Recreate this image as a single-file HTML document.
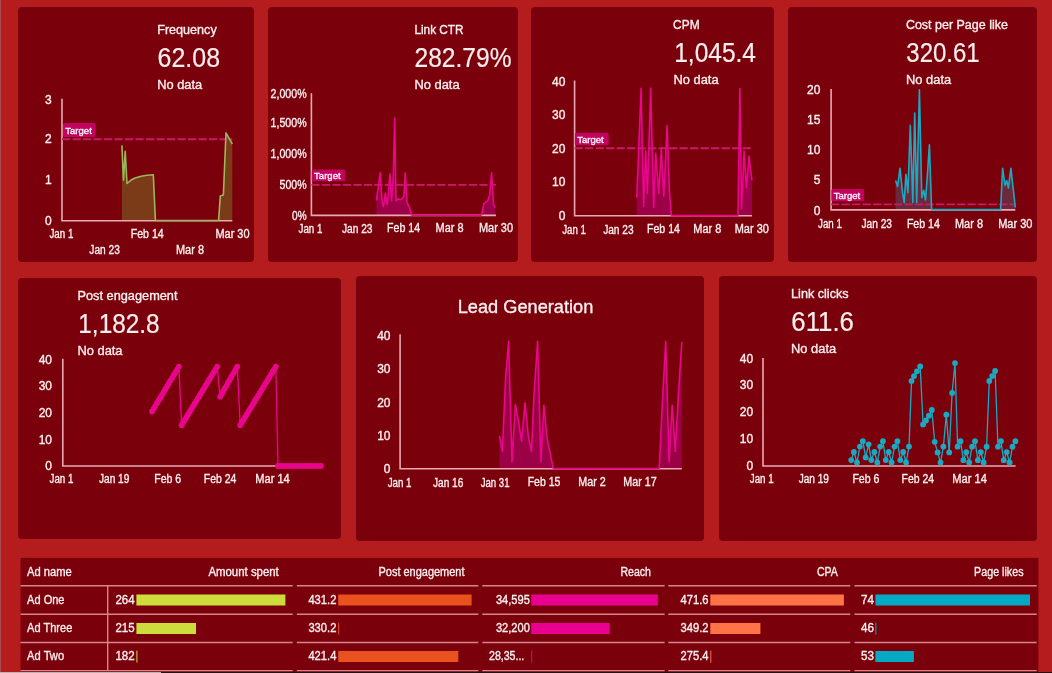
<!DOCTYPE html>
<html><head><meta charset="utf-8"><title>Facebook Ads Dashboard</title>
<style>
html,body{margin:0;padding:0;}
body{width:1052px;height:673px;overflow:hidden;background:#b51c1d;position:relative;font-family:'Liberation Sans', Arial, sans-serif;}
.card{position:absolute;background:#7a000c;border-radius:4px;}
.edge{position:absolute;left:0;top:0;width:1px;height:673px;background:#a84a4e;}
.bar{position:absolute;left:0;top:672px;width:1052px;height:1px;background:#221012;}
.bar i{position:absolute;left:0;top:0;width:161px;height:1px;background:#bdb3b5;}
svg{position:absolute;left:0;top:0;}
.wrap{position:absolute;left:0;top:0;width:1052px;height:673px;filter:blur(0.35px);}
svg text{font-family:'Liberation Sans', Arial, sans-serif;}
</style></head>
<body>
<div class="wrap">
<div class="edge"></div>
<div class="card" style="left:17.9px;top:6.8px;width:236.4px;height:254.9px"></div>
<div class="card" style="left:267.6px;top:6.8px;width:250.1px;height:254.9px"></div>
<div class="card" style="left:530.7px;top:6.8px;width:243.1px;height:254.9px"></div>
<div class="card" style="left:787.5px;top:6.8px;width:249.9px;height:254.9px"></div>
<div class="card" style="left:18px;top:278px;width:323.4px;height:261.3px"></div>
<div class="card" style="left:356.1px;top:276px;width:347.7px;height:264.8px"></div>
<div class="card" style="left:719.2px;top:276px;width:318.2px;height:264.8px"></div>
<svg width="1052" height="673" viewBox="0 0 1052 673">
<rect x="20.5" y="557.9" width="1017.9" height="115.1" fill="#7a000c"/>
<path d="M20.5 585.8H292.7" stroke="#d6868b" stroke-width="1.4"/>
<path d="M296.8 585.8H478.3" stroke="#d6868b" stroke-width="1.4"/>
<path d="M482.3 585.8H664.6" stroke="#d6868b" stroke-width="1.4"/>
<path d="M668.3 585.8H850.3" stroke="#d6868b" stroke-width="1.4"/>
<path d="M854.5 585.8H1036.7" stroke="#d6868b" stroke-width="1.4"/>
<path d="M20.5 614.2H292.7" stroke="#d6868b" stroke-width="1.4"/>
<path d="M296.8 614.2H478.3" stroke="#d6868b" stroke-width="1.4"/>
<path d="M482.3 614.2H664.6" stroke="#d6868b" stroke-width="1.4"/>
<path d="M668.3 614.2H850.3" stroke="#d6868b" stroke-width="1.4"/>
<path d="M854.5 614.2H1036.7" stroke="#d6868b" stroke-width="1.4"/>
<path d="M20.5 642.5H292.7" stroke="#d6868b" stroke-width="1.4"/>
<path d="M296.8 642.5H478.3" stroke="#d6868b" stroke-width="1.4"/>
<path d="M482.3 642.5H664.6" stroke="#d6868b" stroke-width="1.4"/>
<path d="M668.3 642.5H850.3" stroke="#d6868b" stroke-width="1.4"/>
<path d="M854.5 642.5H1036.7" stroke="#d6868b" stroke-width="1.4"/>
<path d="M20.5 670.6H292.7" stroke="#d6868b" stroke-width="1.4"/>
<path d="M296.8 670.6H478.3" stroke="#d6868b" stroke-width="1.4"/>
<path d="M482.3 670.6H664.6" stroke="#d6868b" stroke-width="1.4"/>
<path d="M668.3 670.6H850.3" stroke="#d6868b" stroke-width="1.4"/>
<path d="M854.5 670.6H1036.7" stroke="#d6868b" stroke-width="1.4"/>
<path d="M107.7 585.2V670.6" stroke="#d6868b" stroke-width="1.4"/>
<path d="M121.9 145.4 L123.5 180.3 L125.2 151.2 L127.0 183.5 L130.8 180.3 L135.0 178.0 L141.2 176.2 L147.0 175.2 L153.3 174.7 L155.4 220.5 L155.4 220.7 L121.9 220.7Z" fill="#7b3a18"/>
<path d="M218.6 220.5 L220.3 196.0 L223.4 195.0 L226.0 132.9 L232.3 144.0 L232.3 220.7 L218.6 220.7Z" fill="#7b3a18"/>
<path d="M376.4 200.7 L380.2 172.7 L382.0 200.7 L383.5 206.5 L385.4 193.0 L387.0 204.6 L388.3 195.0 L389.9 173.7 L391.6 200.7 L393.2 177.6 L394.7 117.7 L396.0 200.7 L398.0 198.8 L400.9 199.8 L403.8 196.9 L405.3 172.7 L407.0 202.7 L409.6 207.5 L411.5 215.2 L411.5 215.4 L376.4 215.4Z" fill="#9c0047"/>
<path d="M481.6 215.2 L483.9 203.6 L487.8 200.7 L489.7 195.0 L491.6 172.7 L493.5 204.6 L495.5 207.5 L495.5 215.4 L481.6 215.4Z" fill="#9c0047"/>
<path d="M636.8 197.6 L641.1 88.2 L643.6 206.5 L645.6 150.9 L647.4 193.8 L650.7 88.2 L653.7 207.7 L655.7 153.4 L658.8 193.8 L661.3 148.3 L663.8 196.4 L667.1 125.6 L669.4 191.3 L671.4 215.6 L671.4 215.8 L636.8 215.8Z" fill="#9c0047"/>
<path d="M738.0 215.6 L739.9 88.5 L741.6 208.7 L744.1 151.0 L746.5 187.9 L749.0 156.0 L752.0 180.5 L752.0 215.8 L738.0 215.8Z" fill="#9c0047"/>
<path d="M895.6 180.4 L897.6 186.5 L900.0 168.2 L902.5 192.7 L904.2 202.5 L905.9 174.3 L907.9 192.7 L910.3 125.3 L912.8 202.5 L914.7 113.0 L916.7 202.5 L919.4 89.7 L921.8 197.6 L923.8 190.2 L925.5 200.0 L927.5 173.0 L929.4 144.9 L931.6 209.6 L931.6 209.9 L895.6 209.9Z" fill="#6b2a3c"/>
<path d="M1000.6 209.6 L1002.6 168.2 L1005.0 185.4 L1006.7 180.5 L1008.4 187.9 L1010.9 168.2 L1015.3 207.5 L1015.3 209.9 L1000.6 209.9Z" fill="#6b2a3c"/>
<path d="M499.5 435.8 L502.4 451.4 L505.5 379.8 L508.6 341.3 L512.0 461.8 L515.4 404.5 L518.5 421.5 L521.6 441.0 L525.0 402.7 L528.4 437.0 L531.5 451.4 L534.1 392.8 L537.6 341.3 L540.9 461.8 L543.9 405.3 L547.3 439.7 L553.3 468.6 L553.3 468.8 L499.5 468.8Z" fill="#9c0047"/>
<path d="M659.2 468.6 L662.6 398.0 L665.7 341.3 L669.1 461.8 L672.2 405.3 L675.3 451.4 L678.2 398.0 L681.8 342.0 L681.8 468.8 L659.2 468.8Z" fill="#9c0047"/>
<path d="M62 98.8V220.7H232.3" fill="none" stroke="#e6aab0" stroke-width="1.6"/>
<path d="M311.4 93.3V215.4H495.9" fill="none" stroke="#e6aab0" stroke-width="1.6"/>
<path d="M574.6 80.6V215.8H752" fill="none" stroke="#e6aab0" stroke-width="1.6"/>
<path d="M831.1 89V209.9H1015.3" fill="none" stroke="#e6aab0" stroke-width="1.6"/>
<path d="M62.8 358.8V466H321" fill="none" stroke="#e6aab0" stroke-width="1.6"/>
<path d="M400.1 334.3V468.8H681.8" fill="none" stroke="#e6aab0" stroke-width="1.6"/>
<path d="M763 357.9V466H1015.6" fill="none" stroke="#e6aab0" stroke-width="1.6"/>
<rect x="63" y="123" width="32.6" height="14" rx="1.5" fill="#c2035f"/>
<path d="M62 139.3H232.3" stroke="#cc186c" stroke-width="1.9" stroke-dasharray="8.2 2.3"/>
<rect x="311.8" y="169.4" width="33.3" height="11.9" rx="1.5" fill="#c2035f"/>
<path d="M311.4 184.9H495.9" stroke="#cc186c" stroke-width="1.9" stroke-dasharray="8.2 2.3"/>
<rect x="574.9" y="132.7" width="33.8" height="12.6" rx="1.5" fill="#c2035f"/>
<path d="M574.6 148.3H752" stroke="#cc186c" stroke-width="1.9" stroke-dasharray="8.2 2.3"/>
<rect x="831.4" y="189" width="32.8" height="12.3" rx="1.5" fill="#c2035f"/>
<path d="M831.1 204.4H1015.3" stroke="#cc186c" stroke-width="1.9" stroke-dasharray="8.2 2.3"/>
<path d="M121.9 145.4 L123.5 180.3 L125.2 151.2 L127.0 183.5 L130.8 180.3 L135.0 178.0 L141.2 176.2 L147.0 175.2 L153.3 174.7 L155.4 220.5" fill="none" stroke="#9ab85a" stroke-width="1.6" stroke-linejoin="round"/>
<path d="M218.6 220.5 L220.3 196.0 L223.4 195.0 L226.0 132.9 L232.3 144.0" fill="none" stroke="#9ab85a" stroke-width="1.6" stroke-linejoin="round"/>
<path d="M155.4 220.5H218.6" stroke="#9ab85a" stroke-width="1.6"/>
<path d="M376.4 200.7 L380.2 172.7 L382.0 200.7 L383.5 206.5 L385.4 193.0 L387.0 204.6 L388.3 195.0 L389.9 173.7 L391.6 200.7 L393.2 177.6 L394.7 117.7 L396.0 200.7 L398.0 198.8 L400.9 199.8 L403.8 196.9 L405.3 172.7 L407.0 202.7 L409.6 207.5 L411.5 215.2" fill="none" stroke="#e8068c" stroke-width="1.6" stroke-linejoin="round"/>
<path d="M481.6 215.2 L483.9 203.6 L487.8 200.7 L489.7 195.0 L491.6 172.7 L493.5 204.6 L495.5 207.5" fill="none" stroke="#e8068c" stroke-width="1.6" stroke-linejoin="round"/>
<path d="M411.5 215.2H481.6" stroke="#e8068c" stroke-width="1.6"/>
<path d="M636.8 197.6 L641.1 88.2 L643.6 206.5 L645.6 150.9 L647.4 193.8 L650.7 88.2 L653.7 207.7 L655.7 153.4 L658.8 193.8 L661.3 148.3 L663.8 196.4 L667.1 125.6 L669.4 191.3 L671.4 215.6" fill="none" stroke="#e8068c" stroke-width="1.6" stroke-linejoin="round"/>
<path d="M738.0 215.6 L739.9 88.5 L741.6 208.7 L744.1 151.0 L746.5 187.9 L749.0 156.0 L752.0 180.5" fill="none" stroke="#e8068c" stroke-width="1.6" stroke-linejoin="round"/>
<path d="M671.4 215.6H738" stroke="#e8068c" stroke-width="1.6"/>
<path d="M895.6 180.4 L897.6 186.5 L900.0 168.2 L902.5 192.7 L904.2 202.5 L905.9 174.3 L907.9 192.7 L910.3 125.3 L912.8 202.5 L914.7 113.0 L916.7 202.5 L919.4 89.7 L921.8 197.6 L923.8 190.2 L925.5 200.0 L927.5 173.0 L929.4 144.9 L931.6 209.6" fill="none" stroke="#1ba9c2" stroke-width="1.6" stroke-linejoin="round"/>
<path d="M1000.6 209.6 L1002.6 168.2 L1005.0 185.4 L1006.7 180.5 L1008.4 187.9 L1010.9 168.2 L1015.3 207.5" fill="none" stroke="#1ba9c2" stroke-width="1.6" stroke-linejoin="round"/>
<path d="M931.6 209.6H1000.6" stroke="#1ba9c2" stroke-width="1.6"/>
<path d="M178.9 366.6L181.6 425.2" stroke="#e8068c" stroke-width="1.3"/>
<path d="M217.2 366.6L220.1 396.7" stroke="#e8068c" stroke-width="1.3"/>
<path d="M237.3 366.6L240.2 425.2" stroke="#e8068c" stroke-width="1.3"/>
<path d="M275.8 366.6L278 466" stroke="#e8068c" stroke-width="1.3"/>
<path d="M152.1 411.4L178.9 366.6" stroke="#e8068c" stroke-width="4.6" stroke-linecap="round"/>
<circle cx="152.1" cy="411.4" r="2.9" fill="#e8068c"/>
<circle cx="153.8" cy="408.6" r="2.9" fill="#e8068c"/>
<circle cx="155.4" cy="405.8" r="2.9" fill="#e8068c"/>
<circle cx="157.1" cy="403.0" r="2.9" fill="#e8068c"/>
<circle cx="158.8" cy="400.2" r="2.9" fill="#e8068c"/>
<circle cx="160.5" cy="397.4" r="2.9" fill="#e8068c"/>
<circle cx="162.2" cy="394.6" r="2.9" fill="#e8068c"/>
<circle cx="163.8" cy="391.8" r="2.9" fill="#e8068c"/>
<circle cx="165.5" cy="389.0" r="2.9" fill="#e8068c"/>
<circle cx="167.2" cy="386.2" r="2.9" fill="#e8068c"/>
<circle cx="168.8" cy="383.4" r="2.9" fill="#e8068c"/>
<circle cx="170.5" cy="380.6" r="2.9" fill="#e8068c"/>
<circle cx="172.2" cy="377.8" r="2.9" fill="#e8068c"/>
<circle cx="173.9" cy="375.0" r="2.9" fill="#e8068c"/>
<circle cx="175.6" cy="372.2" r="2.9" fill="#e8068c"/>
<circle cx="177.2" cy="369.4" r="2.9" fill="#e8068c"/>
<circle cx="178.9" cy="366.6" r="2.9" fill="#e8068c"/>
<path d="M181.6 425.2L217.2 366.6" stroke="#e8068c" stroke-width="4.6" stroke-linecap="round"/>
<circle cx="181.6" cy="425.2" r="2.9" fill="#e8068c"/>
<circle cx="183.2" cy="422.5" r="2.9" fill="#e8068c"/>
<circle cx="184.8" cy="419.9" r="2.9" fill="#e8068c"/>
<circle cx="186.5" cy="417.2" r="2.9" fill="#e8068c"/>
<circle cx="188.1" cy="414.5" r="2.9" fill="#e8068c"/>
<circle cx="189.7" cy="411.9" r="2.9" fill="#e8068c"/>
<circle cx="191.3" cy="409.2" r="2.9" fill="#e8068c"/>
<circle cx="192.9" cy="406.6" r="2.9" fill="#e8068c"/>
<circle cx="194.5" cy="403.9" r="2.9" fill="#e8068c"/>
<circle cx="196.2" cy="401.2" r="2.9" fill="#e8068c"/>
<circle cx="197.8" cy="398.6" r="2.9" fill="#e8068c"/>
<circle cx="199.4" cy="395.9" r="2.9" fill="#e8068c"/>
<circle cx="201.0" cy="393.2" r="2.9" fill="#e8068c"/>
<circle cx="202.6" cy="390.6" r="2.9" fill="#e8068c"/>
<circle cx="204.3" cy="387.9" r="2.9" fill="#e8068c"/>
<circle cx="205.9" cy="385.2" r="2.9" fill="#e8068c"/>
<circle cx="207.5" cy="382.6" r="2.9" fill="#e8068c"/>
<circle cx="209.1" cy="379.9" r="2.9" fill="#e8068c"/>
<circle cx="210.7" cy="377.3" r="2.9" fill="#e8068c"/>
<circle cx="212.3" cy="374.6" r="2.9" fill="#e8068c"/>
<circle cx="214.0" cy="371.9" r="2.9" fill="#e8068c"/>
<circle cx="215.6" cy="369.3" r="2.9" fill="#e8068c"/>
<circle cx="217.2" cy="366.6" r="2.9" fill="#e8068c"/>
<path d="M220.1 396.7L237.3 366.6" stroke="#e8068c" stroke-width="4.6" stroke-linecap="round"/>
<circle cx="220.1" cy="396.7" r="2.9" fill="#e8068c"/>
<circle cx="221.7" cy="394.0" r="2.9" fill="#e8068c"/>
<circle cx="223.2" cy="391.2" r="2.9" fill="#e8068c"/>
<circle cx="224.8" cy="388.5" r="2.9" fill="#e8068c"/>
<circle cx="226.4" cy="385.8" r="2.9" fill="#e8068c"/>
<circle cx="227.9" cy="383.0" r="2.9" fill="#e8068c"/>
<circle cx="229.5" cy="380.3" r="2.9" fill="#e8068c"/>
<circle cx="231.0" cy="377.5" r="2.9" fill="#e8068c"/>
<circle cx="232.6" cy="374.8" r="2.9" fill="#e8068c"/>
<circle cx="234.2" cy="372.1" r="2.9" fill="#e8068c"/>
<circle cx="235.7" cy="369.3" r="2.9" fill="#e8068c"/>
<circle cx="237.3" cy="366.6" r="2.9" fill="#e8068c"/>
<path d="M240.2 425.2L275.8 366.6" stroke="#e8068c" stroke-width="4.6" stroke-linecap="round"/>
<circle cx="240.2" cy="425.2" r="2.9" fill="#e8068c"/>
<circle cx="241.8" cy="422.5" r="2.9" fill="#e8068c"/>
<circle cx="243.4" cy="419.9" r="2.9" fill="#e8068c"/>
<circle cx="245.1" cy="417.2" r="2.9" fill="#e8068c"/>
<circle cx="246.7" cy="414.5" r="2.9" fill="#e8068c"/>
<circle cx="248.3" cy="411.9" r="2.9" fill="#e8068c"/>
<circle cx="249.9" cy="409.2" r="2.9" fill="#e8068c"/>
<circle cx="251.5" cy="406.6" r="2.9" fill="#e8068c"/>
<circle cx="253.1" cy="403.9" r="2.9" fill="#e8068c"/>
<circle cx="254.8" cy="401.2" r="2.9" fill="#e8068c"/>
<circle cx="256.4" cy="398.6" r="2.9" fill="#e8068c"/>
<circle cx="258.0" cy="395.9" r="2.9" fill="#e8068c"/>
<circle cx="259.6" cy="393.2" r="2.9" fill="#e8068c"/>
<circle cx="261.2" cy="390.6" r="2.9" fill="#e8068c"/>
<circle cx="262.9" cy="387.9" r="2.9" fill="#e8068c"/>
<circle cx="264.5" cy="385.2" r="2.9" fill="#e8068c"/>
<circle cx="266.1" cy="382.6" r="2.9" fill="#e8068c"/>
<circle cx="267.7" cy="379.9" r="2.9" fill="#e8068c"/>
<circle cx="269.3" cy="377.3" r="2.9" fill="#e8068c"/>
<circle cx="270.9" cy="374.6" r="2.9" fill="#e8068c"/>
<circle cx="272.6" cy="371.9" r="2.9" fill="#e8068c"/>
<circle cx="274.2" cy="369.3" r="2.9" fill="#e8068c"/>
<circle cx="275.8" cy="366.6" r="2.9" fill="#e8068c"/>
<path d="M278 466L321 466" stroke="#e8068c" stroke-width="4.6" stroke-linecap="round"/>
<circle cx="278.0" cy="466.0" r="2.9" fill="#e8068c"/>
<circle cx="281.3" cy="466.0" r="2.9" fill="#e8068c"/>
<circle cx="284.6" cy="466.0" r="2.9" fill="#e8068c"/>
<circle cx="287.9" cy="466.0" r="2.9" fill="#e8068c"/>
<circle cx="291.2" cy="466.0" r="2.9" fill="#e8068c"/>
<circle cx="294.5" cy="466.0" r="2.9" fill="#e8068c"/>
<circle cx="297.8" cy="466.0" r="2.9" fill="#e8068c"/>
<circle cx="301.2" cy="466.0" r="2.9" fill="#e8068c"/>
<circle cx="304.5" cy="466.0" r="2.9" fill="#e8068c"/>
<circle cx="307.8" cy="466.0" r="2.9" fill="#e8068c"/>
<circle cx="311.1" cy="466.0" r="2.9" fill="#e8068c"/>
<circle cx="314.4" cy="466.0" r="2.9" fill="#e8068c"/>
<circle cx="317.7" cy="466.0" r="2.9" fill="#e8068c"/>
<circle cx="321.0" cy="466.0" r="2.9" fill="#e8068c"/>
<path d="M499.5 435.8 L502.4 451.4 L505.5 379.8 L508.6 341.3 L512.0 461.8 L515.4 404.5 L518.5 421.5 L521.6 441.0 L525.0 402.7 L528.4 437.0 L531.5 451.4 L534.1 392.8 L537.6 341.3 L540.9 461.8 L543.9 405.3 L547.3 439.7 L553.3 468.6" fill="none" stroke="#e8068c" stroke-width="1.6" stroke-linejoin="round"/>
<path d="M659.2 468.6 L662.6 398.0 L665.7 341.3 L669.1 461.8 L672.2 405.3 L675.3 451.4 L678.2 398.0 L681.8 342.0" fill="none" stroke="#e8068c" stroke-width="1.6" stroke-linejoin="round"/>
<path d="M553.3 468.6H659.2" stroke="#e8068c" stroke-width="1.6"/>
<path d="M851.2 460.1 L853.9 452.0 L857.0 462.5 L859.9 446.6 L862.8 441.2 L865.7 457.4 L868.6 444.3 L871.3 460.1 L874.4 452.0 L877.3 462.5 L880.2 446.6 L882.9 441.2 L885.8 460.1 L888.7 452.0 L891.6 462.5 L894.5 446.6 L897.4 441.2 L900.3 460.1 L903.2 452.0 L906.1 462.5 L909.0 446.6 L911.5 380.9 L914.0 376.1 L916.9 371.3 L920.2 366.4 L923.1 424.4 L926.0 420.5 L928.9 415.7 L931.8 409.9 L934.7 441.8 L937.6 452.4 L940.5 462.5 L943.4 446.6 L946.3 414.7 L949.2 452.4 L952.1 392.9 L955.0 363.1 L957.6 446.7 L960.5 441.2 L963.4 460.2 L966.3 452.1 L969.2 462.5 L972.1 446.7 L975.0 441.2 L977.9 460.2 L980.8 452.1 L983.7 462.5 L986.6 446.7 L989.3 380.9 L992.2 376.1 L995.1 370.9 L998.0 446.7 L1000.9 441.2 L1003.8 460.2 L1006.7 452.1 L1009.6 462.5 L1012.5 446.7 L1015.4 441.2" fill="none" stroke="#1ba9c2" stroke-width="1.3" stroke-linejoin="round"/>
<circle cx="851.2" cy="460.1" r="2.9" fill="#1ba9c2"/>
<circle cx="853.9" cy="452" r="2.9" fill="#1ba9c2"/>
<circle cx="857" cy="462.5" r="2.9" fill="#1ba9c2"/>
<circle cx="859.9" cy="446.6" r="2.9" fill="#1ba9c2"/>
<circle cx="862.8" cy="441.2" r="2.9" fill="#1ba9c2"/>
<circle cx="865.7" cy="457.4" r="2.9" fill="#1ba9c2"/>
<circle cx="868.6" cy="444.3" r="2.9" fill="#1ba9c2"/>
<circle cx="871.3" cy="460.1" r="2.9" fill="#1ba9c2"/>
<circle cx="874.4" cy="452" r="2.9" fill="#1ba9c2"/>
<circle cx="877.3" cy="462.5" r="2.9" fill="#1ba9c2"/>
<circle cx="880.2" cy="446.6" r="2.9" fill="#1ba9c2"/>
<circle cx="882.9" cy="441.2" r="2.9" fill="#1ba9c2"/>
<circle cx="885.8" cy="460.1" r="2.9" fill="#1ba9c2"/>
<circle cx="888.7" cy="452" r="2.9" fill="#1ba9c2"/>
<circle cx="891.6" cy="462.5" r="2.9" fill="#1ba9c2"/>
<circle cx="894.5" cy="446.6" r="2.9" fill="#1ba9c2"/>
<circle cx="897.4" cy="441.2" r="2.9" fill="#1ba9c2"/>
<circle cx="900.3" cy="460.1" r="2.9" fill="#1ba9c2"/>
<circle cx="903.2" cy="452" r="2.9" fill="#1ba9c2"/>
<circle cx="906.1" cy="462.5" r="2.9" fill="#1ba9c2"/>
<circle cx="909" cy="446.6" r="2.9" fill="#1ba9c2"/>
<circle cx="911.5" cy="380.9" r="2.9" fill="#1ba9c2"/>
<circle cx="914" cy="376.1" r="2.9" fill="#1ba9c2"/>
<circle cx="916.9" cy="371.3" r="2.9" fill="#1ba9c2"/>
<circle cx="920.2" cy="366.4" r="2.9" fill="#1ba9c2"/>
<circle cx="923.1" cy="424.4" r="2.9" fill="#1ba9c2"/>
<circle cx="926" cy="420.5" r="2.9" fill="#1ba9c2"/>
<circle cx="928.9" cy="415.7" r="2.9" fill="#1ba9c2"/>
<circle cx="931.8" cy="409.9" r="2.9" fill="#1ba9c2"/>
<circle cx="934.7" cy="441.8" r="2.9" fill="#1ba9c2"/>
<circle cx="937.6" cy="452.4" r="2.9" fill="#1ba9c2"/>
<circle cx="940.5" cy="462.5" r="2.9" fill="#1ba9c2"/>
<circle cx="943.4" cy="446.6" r="2.9" fill="#1ba9c2"/>
<circle cx="946.3" cy="414.7" r="2.9" fill="#1ba9c2"/>
<circle cx="949.2" cy="452.4" r="2.9" fill="#1ba9c2"/>
<circle cx="952.1" cy="392.9" r="2.9" fill="#1ba9c2"/>
<circle cx="955" cy="363.1" r="2.9" fill="#1ba9c2"/>
<circle cx="957.6" cy="446.7" r="2.9" fill="#1ba9c2"/>
<circle cx="960.5" cy="441.2" r="2.9" fill="#1ba9c2"/>
<circle cx="963.4" cy="460.2" r="2.9" fill="#1ba9c2"/>
<circle cx="966.3" cy="452.1" r="2.9" fill="#1ba9c2"/>
<circle cx="969.2" cy="462.5" r="2.9" fill="#1ba9c2"/>
<circle cx="972.1" cy="446.7" r="2.9" fill="#1ba9c2"/>
<circle cx="975" cy="441.2" r="2.9" fill="#1ba9c2"/>
<circle cx="977.9" cy="460.2" r="2.9" fill="#1ba9c2"/>
<circle cx="980.8" cy="452.1" r="2.9" fill="#1ba9c2"/>
<circle cx="983.7" cy="462.5" r="2.9" fill="#1ba9c2"/>
<circle cx="986.6" cy="446.7" r="2.9" fill="#1ba9c2"/>
<circle cx="989.3" cy="380.9" r="2.9" fill="#1ba9c2"/>
<circle cx="992.2" cy="376.1" r="2.9" fill="#1ba9c2"/>
<circle cx="995.1" cy="370.9" r="2.9" fill="#1ba9c2"/>
<circle cx="998" cy="446.7" r="2.9" fill="#1ba9c2"/>
<circle cx="1000.9" cy="441.2" r="2.9" fill="#1ba9c2"/>
<circle cx="1003.8" cy="460.2" r="2.9" fill="#1ba9c2"/>
<circle cx="1006.7" cy="452.1" r="2.9" fill="#1ba9c2"/>
<circle cx="1009.6" cy="462.5" r="2.9" fill="#1ba9c2"/>
<circle cx="1012.5" cy="446.7" r="2.9" fill="#1ba9c2"/>
<circle cx="1015.4" cy="441.2" r="2.9" fill="#1ba9c2"/>
<text x="157.2" y="33.9" font-size="12.5" text-anchor="start" fill="#fbeeee" stroke="#fbeeee" stroke-width="0.35" font-weight="normal" textLength="59.5" lengthAdjust="spacingAndGlyphs">Frequency</text>
<text x="157.6" y="66.8" font-size="27" text-anchor="start" fill="#fbeeee" stroke="#fbeeee" stroke-width="0.2" font-weight="normal" textLength="62.5" lengthAdjust="spacingAndGlyphs">62.08</text>
<text x="157.2" y="88.9" font-size="12.5" text-anchor="start" fill="#fbeeee" stroke="#fbeeee" stroke-width="0.35" font-weight="normal" textLength="45" lengthAdjust="spacingAndGlyphs">No data</text>
<text x="414.4" y="33.9" font-size="12.5" text-anchor="start" fill="#fbeeee" stroke="#fbeeee" stroke-width="0.35" font-weight="normal" textLength="49.2" lengthAdjust="spacingAndGlyphs">Link CTR</text>
<text x="414.5" y="66.8" font-size="27" text-anchor="start" fill="#fbeeee" stroke="#fbeeee" stroke-width="0.2" font-weight="normal" textLength="97" lengthAdjust="spacingAndGlyphs">282.79%</text>
<text x="414.4" y="88.9" font-size="12.5" text-anchor="start" fill="#fbeeee" stroke="#fbeeee" stroke-width="0.35" font-weight="normal" textLength="45.2" lengthAdjust="spacingAndGlyphs">No data</text>
<text x="673.1" y="28.6" font-size="12.5" text-anchor="start" fill="#fbeeee" stroke="#fbeeee" stroke-width="0.35" font-weight="normal" textLength="26.5" lengthAdjust="spacingAndGlyphs">CPM</text>
<text x="674.2" y="62.4" font-size="27" text-anchor="start" fill="#fbeeee" stroke="#fbeeee" stroke-width="0.2" font-weight="normal" textLength="81.8" lengthAdjust="spacingAndGlyphs">1,045.4</text>
<text x="673.4" y="84.2" font-size="12.5" text-anchor="start" fill="#fbeeee" stroke="#fbeeee" stroke-width="0.35" font-weight="normal" textLength="45.2" lengthAdjust="spacingAndGlyphs">No data</text>
<text x="905.9" y="28.9" font-size="12.5" text-anchor="start" fill="#fbeeee" stroke="#fbeeee" stroke-width="0.35" font-weight="normal" textLength="102" lengthAdjust="spacingAndGlyphs">Cost per Page like</text>
<text x="906.3" y="61.8" font-size="27" text-anchor="start" fill="#fbeeee" stroke="#fbeeee" stroke-width="0.2" font-weight="normal" textLength="73.4" lengthAdjust="spacingAndGlyphs">320.61</text>
<text x="906.1" y="83.9" font-size="12.5" text-anchor="start" fill="#fbeeee" stroke="#fbeeee" stroke-width="0.35" font-weight="normal" textLength="45" lengthAdjust="spacingAndGlyphs">No data</text>
<text x="77.5" y="300" font-size="12.5" text-anchor="start" fill="#fbeeee" stroke="#fbeeee" stroke-width="0.35" font-weight="normal" textLength="100" lengthAdjust="spacingAndGlyphs">Post engagement</text>
<text x="78.3" y="332.6" font-size="27" text-anchor="start" fill="#fbeeee" stroke="#fbeeee" stroke-width="0.2" font-weight="normal" textLength="81.4" lengthAdjust="spacingAndGlyphs">1,182.8</text>
<text x="77.5" y="355.2" font-size="12.5" text-anchor="start" fill="#fbeeee" stroke="#fbeeee" stroke-width="0.35" font-weight="normal" textLength="45" lengthAdjust="spacingAndGlyphs">No data</text>
<text x="791.1" y="297.7" font-size="12.5" text-anchor="start" fill="#fbeeee" stroke="#fbeeee" stroke-width="0.35" font-weight="normal" textLength="57.5" lengthAdjust="spacingAndGlyphs">Link clicks</text>
<text x="791.3" y="330.5" font-size="27" text-anchor="start" fill="#fbeeee" stroke="#fbeeee" stroke-width="0.2" font-weight="normal" textLength="62.6" lengthAdjust="spacingAndGlyphs">611.6</text>
<text x="791.1" y="353.2" font-size="12.5" text-anchor="start" fill="#fbeeee" stroke="#fbeeee" stroke-width="0.35" font-weight="normal" textLength="45" lengthAdjust="spacingAndGlyphs">No data</text>
<text x="457.7" y="313.1" font-size="19" text-anchor="start" fill="#fbeeee" stroke="#fbeeee" stroke-width="0.35" font-weight="normal" textLength="135.6" lengthAdjust="spacingAndGlyphs">Lead Generation</text>
<text x="65.3" y="134.3" font-size="9.8" text-anchor="start" fill="#fff4f8" stroke="#fff4f8" stroke-width="0.35" font-weight="normal" textLength="26.5" lengthAdjust="spacingAndGlyphs">Target</text>
<text x="51.8" y="103.5" font-size="12" text-anchor="end" fill="#fbeeee" stroke="#fbeeee" stroke-width="0.35" font-weight="normal">3</text>
<text x="51.8" y="143.2" font-size="12" text-anchor="end" fill="#fbeeee" stroke="#fbeeee" stroke-width="0.35" font-weight="normal">2</text>
<text x="51.8" y="183.7" font-size="12" text-anchor="end" fill="#fbeeee" stroke="#fbeeee" stroke-width="0.35" font-weight="normal">1</text>
<text x="51.8" y="224.6" font-size="12" text-anchor="end" fill="#fbeeee" stroke="#fbeeee" stroke-width="0.35" font-weight="normal">0</text>
<text x="61.4" y="238.1" font-size="12" text-anchor="middle" fill="#fbeeee" stroke="#fbeeee" stroke-width="0.35" font-weight="normal" textLength="23.8" lengthAdjust="spacingAndGlyphs">Jan 1</text>
<text x="104.6" y="253.6" font-size="12" text-anchor="middle" fill="#fbeeee" stroke="#fbeeee" stroke-width="0.35" font-weight="normal" textLength="30.5" lengthAdjust="spacingAndGlyphs">Jan 23</text>
<text x="147.2" y="237.9" font-size="12" text-anchor="middle" fill="#fbeeee" stroke="#fbeeee" stroke-width="0.35" font-weight="normal" textLength="33" lengthAdjust="spacingAndGlyphs">Feb 14</text>
<text x="190" y="253.7" font-size="12" text-anchor="middle" fill="#fbeeee" stroke="#fbeeee" stroke-width="0.35" font-weight="normal" textLength="28" lengthAdjust="spacingAndGlyphs">Mar 8</text>
<text x="232.5" y="237.9" font-size="12" text-anchor="middle" fill="#fbeeee" stroke="#fbeeee" stroke-width="0.35" font-weight="normal" textLength="34.2" lengthAdjust="spacingAndGlyphs">Mar 30</text>
<text x="314.1" y="178.6" font-size="9.8" text-anchor="start" fill="#fff4f8" stroke="#fff4f8" stroke-width="0.35" font-weight="normal" textLength="26.5" lengthAdjust="spacingAndGlyphs">Target</text>
<text x="306.6" y="97.9" font-size="12" text-anchor="end" fill="#fbeeee" stroke="#fbeeee" stroke-width="0.35" font-weight="normal" textLength="36" lengthAdjust="spacingAndGlyphs">2,000%</text>
<text x="306.6" y="127.4" font-size="12" text-anchor="end" fill="#fbeeee" stroke="#fbeeee" stroke-width="0.35" font-weight="normal" textLength="36" lengthAdjust="spacingAndGlyphs">1,500%</text>
<text x="306.6" y="158.3" font-size="12" text-anchor="end" fill="#fbeeee" stroke="#fbeeee" stroke-width="0.35" font-weight="normal" textLength="36" lengthAdjust="spacingAndGlyphs">1,000%</text>
<text x="306.6" y="188.7" font-size="12" text-anchor="end" fill="#fbeeee" stroke="#fbeeee" stroke-width="0.35" font-weight="normal" textLength="27" lengthAdjust="spacingAndGlyphs">500%</text>
<text x="306.6" y="219.6" font-size="12" text-anchor="end" fill="#fbeeee" stroke="#fbeeee" stroke-width="0.35" font-weight="normal" textLength="14.5" lengthAdjust="spacingAndGlyphs">0%</text>
<text x="310.5" y="232.9" font-size="12" text-anchor="middle" fill="#fbeeee" stroke="#fbeeee" stroke-width="0.35" font-weight="normal" textLength="23.8" lengthAdjust="spacingAndGlyphs">Jan 1</text>
<text x="357.2" y="232.9" font-size="12" text-anchor="middle" fill="#fbeeee" stroke="#fbeeee" stroke-width="0.35" font-weight="normal" textLength="30.5" lengthAdjust="spacingAndGlyphs">Jan 23</text>
<text x="403.6" y="232.4" font-size="12" text-anchor="middle" fill="#fbeeee" stroke="#fbeeee" stroke-width="0.35" font-weight="normal" textLength="33" lengthAdjust="spacingAndGlyphs">Feb 14</text>
<text x="449.6" y="232.4" font-size="12" text-anchor="middle" fill="#fbeeee" stroke="#fbeeee" stroke-width="0.35" font-weight="normal" textLength="28" lengthAdjust="spacingAndGlyphs">Mar 8</text>
<text x="496" y="232.4" font-size="12" text-anchor="middle" fill="#fbeeee" stroke="#fbeeee" stroke-width="0.35" font-weight="normal" textLength="34.2" lengthAdjust="spacingAndGlyphs">Mar 30</text>
<text x="577.2" y="142.6" font-size="9.8" text-anchor="start" fill="#fff4f8" stroke="#fff4f8" stroke-width="0.35" font-weight="normal" textLength="26.5" lengthAdjust="spacingAndGlyphs">Target</text>
<text x="565.4" y="85.8" font-size="12" text-anchor="end" fill="#fbeeee" stroke="#fbeeee" stroke-width="0.35" font-weight="normal">40</text>
<text x="565.4" y="119.4" font-size="12" text-anchor="end" fill="#fbeeee" stroke="#fbeeee" stroke-width="0.35" font-weight="normal">30</text>
<text x="565.4" y="152.7" font-size="12" text-anchor="end" fill="#fbeeee" stroke="#fbeeee" stroke-width="0.35" font-weight="normal">20</text>
<text x="565.4" y="186.4" font-size="12" text-anchor="end" fill="#fbeeee" stroke="#fbeeee" stroke-width="0.35" font-weight="normal">10</text>
<text x="565.4" y="219.9" font-size="12" text-anchor="end" fill="#fbeeee" stroke="#fbeeee" stroke-width="0.35" font-weight="normal">0</text>
<text x="574.1" y="233.5" font-size="12" text-anchor="middle" fill="#fbeeee" stroke="#fbeeee" stroke-width="0.35" font-weight="normal" textLength="23.8" lengthAdjust="spacingAndGlyphs">Jan 1</text>
<text x="618.4" y="233.5" font-size="12" text-anchor="middle" fill="#fbeeee" stroke="#fbeeee" stroke-width="0.35" font-weight="normal" textLength="30.5" lengthAdjust="spacingAndGlyphs">Jan 23</text>
<text x="663.5" y="233.3" font-size="12" text-anchor="middle" fill="#fbeeee" stroke="#fbeeee" stroke-width="0.35" font-weight="normal" textLength="33" lengthAdjust="spacingAndGlyphs">Feb 14</text>
<text x="707.3" y="233.3" font-size="12" text-anchor="middle" fill="#fbeeee" stroke="#fbeeee" stroke-width="0.35" font-weight="normal" textLength="28" lengthAdjust="spacingAndGlyphs">Mar 8</text>
<text x="751.8" y="233.3" font-size="12" text-anchor="middle" fill="#fbeeee" stroke="#fbeeee" stroke-width="0.35" font-weight="normal" textLength="34.2" lengthAdjust="spacingAndGlyphs">Mar 30</text>
<text x="833.7" y="198.6" font-size="9.8" text-anchor="start" fill="#fff4f8" stroke="#fff4f8" stroke-width="0.35" font-weight="normal" textLength="26.5" lengthAdjust="spacingAndGlyphs">Target</text>
<text x="820.4" y="94.1" font-size="12" text-anchor="end" fill="#fbeeee" stroke="#fbeeee" stroke-width="0.35" font-weight="normal">20</text>
<text x="820.4" y="124.3" font-size="12" text-anchor="end" fill="#fbeeee" stroke="#fbeeee" stroke-width="0.35" font-weight="normal">15</text>
<text x="820.4" y="154.2" font-size="12" text-anchor="end" fill="#fbeeee" stroke="#fbeeee" stroke-width="0.35" font-weight="normal">10</text>
<text x="820.4" y="184.3" font-size="12" text-anchor="end" fill="#fbeeee" stroke="#fbeeee" stroke-width="0.35" font-weight="normal">5</text>
<text x="820.4" y="214.5" font-size="12" text-anchor="end" fill="#fbeeee" stroke="#fbeeee" stroke-width="0.35" font-weight="normal">0</text>
<text x="830" y="227.6" font-size="12" text-anchor="middle" fill="#fbeeee" stroke="#fbeeee" stroke-width="0.35" font-weight="normal" textLength="23.8" lengthAdjust="spacingAndGlyphs">Jan 1</text>
<text x="876.7" y="227.6" font-size="12" text-anchor="middle" fill="#fbeeee" stroke="#fbeeee" stroke-width="0.35" font-weight="normal" textLength="30.5" lengthAdjust="spacingAndGlyphs">Jan 23</text>
<text x="923.4" y="227.7" font-size="12" text-anchor="middle" fill="#fbeeee" stroke="#fbeeee" stroke-width="0.35" font-weight="normal" textLength="33" lengthAdjust="spacingAndGlyphs">Feb 14</text>
<text x="969" y="227.7" font-size="12" text-anchor="middle" fill="#fbeeee" stroke="#fbeeee" stroke-width="0.35" font-weight="normal" textLength="28" lengthAdjust="spacingAndGlyphs">Mar 8</text>
<text x="1015.3" y="227.7" font-size="12" text-anchor="middle" fill="#fbeeee" stroke="#fbeeee" stroke-width="0.35" font-weight="normal" textLength="34.2" lengthAdjust="spacingAndGlyphs">Mar 30</text>
<text x="52.0" y="364.1" font-size="12" text-anchor="end" fill="#fbeeee" stroke="#fbeeee" stroke-width="0.35" font-weight="normal">40</text>
<text x="52.0" y="389.7" font-size="12" text-anchor="end" fill="#fbeeee" stroke="#fbeeee" stroke-width="0.35" font-weight="normal">30</text>
<text x="52.0" y="416.9" font-size="12" text-anchor="end" fill="#fbeeee" stroke="#fbeeee" stroke-width="0.35" font-weight="normal">20</text>
<text x="52.0" y="443.6" font-size="12" text-anchor="end" fill="#fbeeee" stroke="#fbeeee" stroke-width="0.35" font-weight="normal">10</text>
<text x="52.0" y="470.3" font-size="12" text-anchor="end" fill="#fbeeee" stroke="#fbeeee" stroke-width="0.35" font-weight="normal">0</text>
<text x="61.5" y="483.0" font-size="12" text-anchor="middle" fill="#fbeeee" stroke="#fbeeee" stroke-width="0.35" font-weight="normal" textLength="23.8" lengthAdjust="spacingAndGlyphs">Jan 1</text>
<text x="114.2" y="483.0" font-size="12" text-anchor="middle" fill="#fbeeee" stroke="#fbeeee" stroke-width="0.35" font-weight="normal" textLength="30.3" lengthAdjust="spacingAndGlyphs">Jan 19</text>
<text x="167.7" y="483.0" font-size="12" text-anchor="middle" fill="#fbeeee" stroke="#fbeeee" stroke-width="0.35" font-weight="normal" textLength="27" lengthAdjust="spacingAndGlyphs">Feb 6</text>
<text x="220" y="483.0" font-size="12" text-anchor="middle" fill="#fbeeee" stroke="#fbeeee" stroke-width="0.35" font-weight="normal" textLength="32.5" lengthAdjust="spacingAndGlyphs">Feb 24</text>
<text x="272.5" y="483.0" font-size="12" text-anchor="middle" fill="#fbeeee" stroke="#fbeeee" stroke-width="0.35" font-weight="normal" textLength="34.5" lengthAdjust="spacingAndGlyphs">Mar 14</text>
<text x="390.5" y="339.5" font-size="12" text-anchor="end" fill="#fbeeee" stroke="#fbeeee" stroke-width="0.35" font-weight="normal">40</text>
<text x="390.5" y="372.8" font-size="12" text-anchor="end" fill="#fbeeee" stroke="#fbeeee" stroke-width="0.35" font-weight="normal">30</text>
<text x="390.5" y="406.6" font-size="12" text-anchor="end" fill="#fbeeee" stroke="#fbeeee" stroke-width="0.35" font-weight="normal">20</text>
<text x="390.5" y="439.7" font-size="12" text-anchor="end" fill="#fbeeee" stroke="#fbeeee" stroke-width="0.35" font-weight="normal">10</text>
<text x="390.5" y="472.9" font-size="12" text-anchor="end" fill="#fbeeee" stroke="#fbeeee" stroke-width="0.35" font-weight="normal">0</text>
<text x="399.6" y="486.9" font-size="12" text-anchor="middle" fill="#fbeeee" stroke="#fbeeee" stroke-width="0.35" font-weight="normal" textLength="23.8" lengthAdjust="spacingAndGlyphs">Jan 1</text>
<text x="448.2" y="486.9" font-size="12" text-anchor="middle" fill="#fbeeee" stroke="#fbeeee" stroke-width="0.35" font-weight="normal" textLength="30.3" lengthAdjust="spacingAndGlyphs">Jan 16</text>
<text x="495.1" y="486.9" font-size="12" text-anchor="middle" fill="#fbeeee" stroke="#fbeeee" stroke-width="0.35" font-weight="normal" textLength="28.8" lengthAdjust="spacingAndGlyphs">Jan 31</text>
<text x="544" y="486.1" font-size="12" text-anchor="middle" fill="#fbeeee" stroke="#fbeeee" stroke-width="0.35" font-weight="normal" textLength="32.7" lengthAdjust="spacingAndGlyphs">Feb 15</text>
<text x="592.1" y="486.1" font-size="12" text-anchor="middle" fill="#fbeeee" stroke="#fbeeee" stroke-width="0.35" font-weight="normal" textLength="27.5" lengthAdjust="spacingAndGlyphs">Mar 2</text>
<text x="640" y="486.1" font-size="12" text-anchor="middle" fill="#fbeeee" stroke="#fbeeee" stroke-width="0.35" font-weight="normal" textLength="33.3" lengthAdjust="spacingAndGlyphs">Mar 17</text>
<text x="753.1" y="362.7" font-size="12" text-anchor="end" fill="#fbeeee" stroke="#fbeeee" stroke-width="0.35" font-weight="normal">40</text>
<text x="753.1" y="389.0" font-size="12" text-anchor="end" fill="#fbeeee" stroke="#fbeeee" stroke-width="0.35" font-weight="normal">30</text>
<text x="753.1" y="416.2" font-size="12" text-anchor="end" fill="#fbeeee" stroke="#fbeeee" stroke-width="0.35" font-weight="normal">20</text>
<text x="753.1" y="442.9" font-size="12" text-anchor="end" fill="#fbeeee" stroke="#fbeeee" stroke-width="0.35" font-weight="normal">10</text>
<text x="753.1" y="469.9" font-size="12" text-anchor="end" fill="#fbeeee" stroke="#fbeeee" stroke-width="0.35" font-weight="normal">0</text>
<text x="761.7" y="483.0" font-size="12" text-anchor="middle" fill="#fbeeee" stroke="#fbeeee" stroke-width="0.35" font-weight="normal" textLength="23.8" lengthAdjust="spacingAndGlyphs">Jan 1</text>
<text x="813.8" y="483.0" font-size="12" text-anchor="middle" fill="#fbeeee" stroke="#fbeeee" stroke-width="0.35" font-weight="normal" textLength="30.3" lengthAdjust="spacingAndGlyphs">Jan 19</text>
<text x="865.9" y="483.0" font-size="12" text-anchor="middle" fill="#fbeeee" stroke="#fbeeee" stroke-width="0.35" font-weight="normal" textLength="27" lengthAdjust="spacingAndGlyphs">Feb 6</text>
<text x="917.8" y="483.0" font-size="12" text-anchor="middle" fill="#fbeeee" stroke="#fbeeee" stroke-width="0.35" font-weight="normal" textLength="32.5" lengthAdjust="spacingAndGlyphs">Feb 24</text>
<text x="969.6" y="483.0" font-size="12" text-anchor="middle" fill="#fbeeee" stroke="#fbeeee" stroke-width="0.35" font-weight="normal" textLength="34.5" lengthAdjust="spacingAndGlyphs">Mar 14</text>
<text x="27.0" y="576.3" font-size="12.5" text-anchor="start" fill="#fbeeee" stroke="#fbeeee" stroke-width="0.35" font-weight="normal" textLength="44.8" lengthAdjust="spacingAndGlyphs">Ad name</text>
<text x="278.8" y="576.2" font-size="12.5" text-anchor="end" fill="#fbeeee" stroke="#fbeeee" stroke-width="0.35" font-weight="normal" textLength="70.4" lengthAdjust="spacingAndGlyphs">Amount spent</text>
<text x="378.5" y="576.2" font-size="12.5" text-anchor="start" fill="#fbeeee" stroke="#fbeeee" stroke-width="0.35" font-weight="normal" textLength="86" lengthAdjust="spacingAndGlyphs">Post engagement</text>
<text x="651" y="576.2" font-size="12.5" text-anchor="end" fill="#fbeeee" stroke="#fbeeee" stroke-width="0.35" font-weight="normal" textLength="30.6" lengthAdjust="spacingAndGlyphs">Reach</text>
<text x="837.9" y="576.2" font-size="12.5" text-anchor="end" fill="#fbeeee" stroke="#fbeeee" stroke-width="0.35" font-weight="normal" textLength="21" lengthAdjust="spacingAndGlyphs">CPA</text>
<text x="1023.5" y="576.2" font-size="12.5" text-anchor="end" fill="#fbeeee" stroke="#fbeeee" stroke-width="0.35" font-weight="normal" textLength="49.4" lengthAdjust="spacingAndGlyphs">Page likes</text>
<text x="27.1" y="603.9" font-size="12.5" text-anchor="start" fill="#fbeeee" stroke="#fbeeee" stroke-width="0.35" font-weight="normal" textLength="37.4" lengthAdjust="spacingAndGlyphs">Ad One</text>
<text x="27.1" y="632.1" font-size="12.5" text-anchor="start" fill="#fbeeee" stroke="#fbeeee" stroke-width="0.35" font-weight="normal" textLength="45.2" lengthAdjust="spacingAndGlyphs">Ad Three</text>
<text x="27.1" y="660.3" font-size="12.5" text-anchor="start" fill="#fbeeee" stroke="#fbeeee" stroke-width="0.35" font-weight="normal" textLength="37" lengthAdjust="spacingAndGlyphs">Ad Two</text>
<text x="134.6" y="603.9" font-size="12.5" text-anchor="end" fill="#fbeeee" stroke="#fbeeee" stroke-width="0.35" font-weight="normal" textLength="19.2" lengthAdjust="spacingAndGlyphs">264</text>
<rect x="136.4" y="594.5" width="149.0" height="11" fill="#cddb3c"/>
<text x="134.6" y="632.1" font-size="12.5" text-anchor="end" fill="#fbeeee" stroke="#fbeeee" stroke-width="0.35" font-weight="normal" textLength="19.2" lengthAdjust="spacingAndGlyphs">215</text>
<rect x="136.4" y="623.0" width="59.6" height="11" fill="#cddb3c"/>
<text x="134.6" y="660.3" font-size="12.5" text-anchor="end" fill="#fbeeee" stroke="#fbeeee" stroke-width="0.35" font-weight="normal" textLength="19.2" lengthAdjust="spacingAndGlyphs">182</text>
<rect x="136.4" y="650.6" width="1" height="12" fill="#cddb3c"/>
<text x="336.4" y="603.9" font-size="12.5" text-anchor="end" fill="#fbeeee" stroke="#fbeeee" stroke-width="0.35" font-weight="normal" textLength="28" lengthAdjust="spacingAndGlyphs">431.2</text>
<rect x="338.2" y="594.5" width="133.4" height="11" fill="#e9511f"/>
<text x="336.4" y="632.1" font-size="12.5" text-anchor="end" fill="#fbeeee" stroke="#fbeeee" stroke-width="0.35" font-weight="normal" textLength="28" lengthAdjust="spacingAndGlyphs">330.2</text>
<rect x="338.2" y="622.6" width="1" height="12" fill="#e9511f"/>
<text x="336.4" y="660.3" font-size="12.5" text-anchor="end" fill="#fbeeee" stroke="#fbeeee" stroke-width="0.35" font-weight="normal" textLength="28" lengthAdjust="spacingAndGlyphs">421.4</text>
<rect x="338.2" y="651.0" width="120.1" height="11" fill="#e9511f"/>
<text x="529.9" y="603.9" font-size="12.5" text-anchor="end" fill="#fbeeee" stroke="#fbeeee" stroke-width="0.35" font-weight="normal" textLength="34" lengthAdjust="spacingAndGlyphs">34,595</text>
<rect x="531.2" y="594.5" width="126.7" height="11" fill="#ea0090"/>
<text x="529.9" y="632.1" font-size="12.5" text-anchor="end" fill="#fbeeee" stroke="#fbeeee" stroke-width="0.35" font-weight="normal" textLength="34" lengthAdjust="spacingAndGlyphs">32,200</text>
<rect x="531.2" y="623.0" width="78.5" height="11" fill="#ea0090"/>
<text x="524.3" y="660.3" font-size="12.5" text-anchor="end" fill="#fbeeee" stroke="#fbeeee" stroke-width="0.35" font-weight="normal" textLength="35.3" lengthAdjust="spacingAndGlyphs">28,35...</text>
<rect x="531.2" y="650.6" width="1" height="12" fill="#ea0090"/>
<text x="708.6" y="603.9" font-size="12.5" text-anchor="end" fill="#fbeeee" stroke="#fbeeee" stroke-width="0.35" font-weight="normal" textLength="28" lengthAdjust="spacingAndGlyphs">471.6</text>
<rect x="710.3" y="594.5" width="133.6" height="11" fill="#ff7347"/>
<text x="708.6" y="632.1" font-size="12.5" text-anchor="end" fill="#fbeeee" stroke="#fbeeee" stroke-width="0.35" font-weight="normal" textLength="28" lengthAdjust="spacingAndGlyphs">349.2</text>
<rect x="710.3" y="623.0" width="50.1" height="11" fill="#ff7347"/>
<text x="708.6" y="660.3" font-size="12.5" text-anchor="end" fill="#fbeeee" stroke="#fbeeee" stroke-width="0.35" font-weight="normal" textLength="28" lengthAdjust="spacingAndGlyphs">275.4</text>
<rect x="710.3" y="650.6" width="1" height="12" fill="#ff7347"/>
<text x="874" y="603.9" font-size="12.5" text-anchor="end" fill="#fbeeee" stroke="#fbeeee" stroke-width="0.35" font-weight="normal" textLength="13" lengthAdjust="spacingAndGlyphs">74</text>
<rect x="875.4" y="594.5" width="154.6" height="11" fill="#06a9c4"/>
<text x="874" y="632.1" font-size="12.5" text-anchor="end" fill="#fbeeee" stroke="#fbeeee" stroke-width="0.35" font-weight="normal" textLength="13" lengthAdjust="spacingAndGlyphs">46</text>
<rect x="875.4" y="622.6" width="1" height="12" fill="#06a9c4"/>
<text x="874" y="660.3" font-size="12.5" text-anchor="end" fill="#fbeeee" stroke="#fbeeee" stroke-width="0.35" font-weight="normal" textLength="13" lengthAdjust="spacingAndGlyphs">53</text>
<rect x="875.4" y="651.0" width="38.5" height="11" fill="#06a9c4"/>
</svg>
<div class="bar"><i></i></div>
</div>
</body></html>
